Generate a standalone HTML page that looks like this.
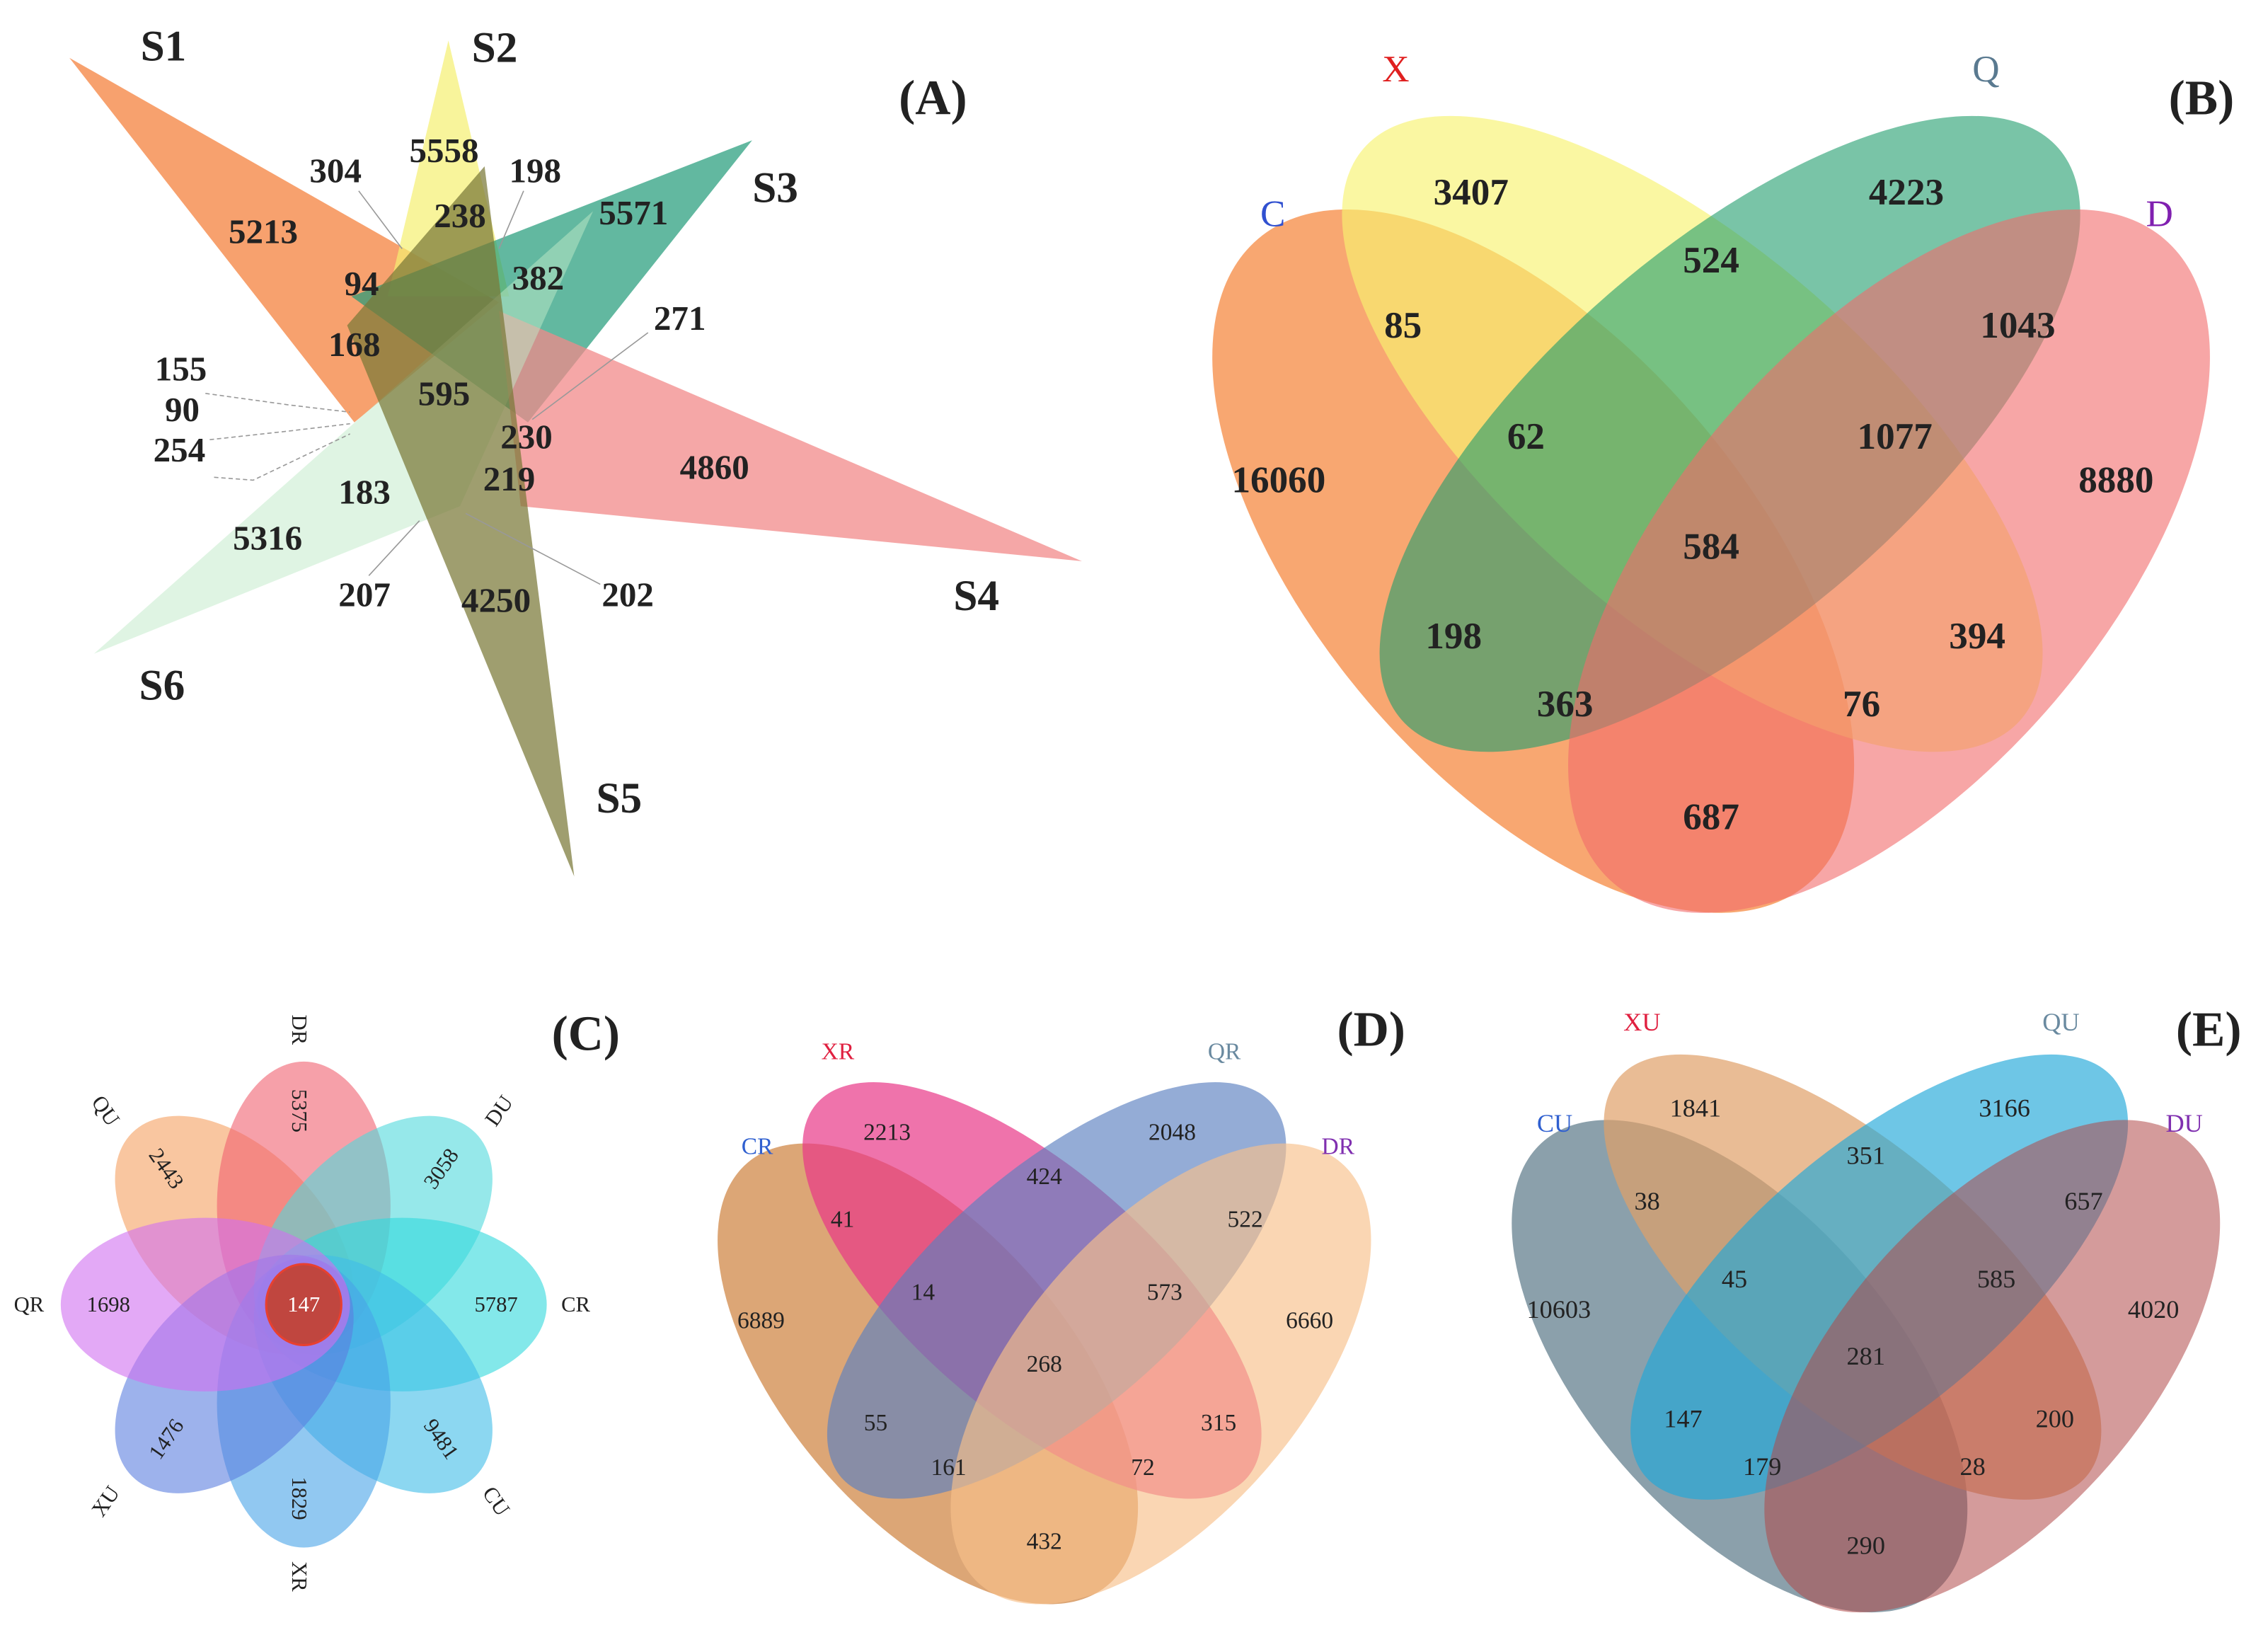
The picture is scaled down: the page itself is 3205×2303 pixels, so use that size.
<!DOCTYPE html>
<html><head><meta charset="utf-8"><style>
html,body{margin:0;padding:0;background:#fff;}
svg{display:block;}
text{font-family:"Liberation Serif",serif;dominant-baseline:central;text-anchor:middle;fill:#222;}
.b{font-weight:bold;}
</style></head><body>
<svg width="3205" height="2303" viewBox="0 0 1568 1127" preserveAspectRatio="none" xmlns="http://www.w3.org/2000/svg">
<defs>
<g id="venn4">
</g>
</defs>
<rect width="1568" height="1127" fill="#fff"/>

<!-- Panel A -->
<g>
<polygon points="48,40 345,209 245,292" fill="#f58a4a" fill-opacity="0.8"/>
<polygon points="310,28 268,205 352,205" fill="#f5ef70" fill-opacity="0.7"/>
<polygon points="520,97 243,205 365,292" fill="#1f9a78" fill-opacity="0.7"/>
<polygon points="748,388 345,215 360,350" fill="#f28a8a" fill-opacity="0.75"/>
<polygon points="65,452 410,146 318,350" fill="#bfe9c8" fill-opacity="0.5"/>
<polygon points="335,115 240,225 397,606" fill="#7a7838" fill-opacity="0.72"/>
<g stroke="#999" stroke-width="0.8" fill="none">
<line x1="248" y1="132" x2="278" y2="172"/>
<line x1="362" y1="132" x2="345" y2="172"/>
<line x1="448" y1="230" x2="368" y2="290"/>
<polyline points="142,272 200,280 242,285" stroke-dasharray="3,2"/>
<polyline points="145,304 200,298 242,293" stroke-dasharray="3,2"/>
<polyline points="148,330 175,332 242,300" stroke-dasharray="3,2"/>
<line x1="255" y1="398" x2="290" y2="360"/>
<line x1="415" y1="404" x2="322" y2="355"/>
</g>
<g font-size="24">
<text x="113" y="32" class="b" font-size="30">S1</text>
<text x="342" y="33" class="b" font-size="30">S2</text>
<text x="536" y="130" class="b" font-size="30">S3</text>
<text x="675" y="412" class="b" font-size="30">S4</text>
<text x="428" y="552" class="b" font-size="30">S5</text>
<text x="112" y="474" class="b" font-size="30">S6</text>
<text x="645" y="68" class="b" font-size="34">(A)</text>
<text x="182" y="160" class="b">5213</text>
<text x="232" y="118" class="b">304</text>
<text x="307" y="104" class="b">5558</text>
<text x="370" y="118" class="b">198</text>
<text x="318" y="149" class="b">238</text>
<text x="438" y="147" class="b">5571</text>
<text x="250" y="196" class="b">94</text>
<text x="372" y="192" class="b">382</text>
<text x="470" y="220" class="b">271</text>
<text x="245" y="238" class="b">168</text>
<text x="307" y="272" class="b">595</text>
<text x="125" y="255" class="b">155</text>
<text x="126" y="283" class="b">90</text>
<text x="124" y="311" class="b">254</text>
<text x="364" y="302" class="b">230</text>
<text x="352" y="331" class="b">219</text>
<text x="494" y="323" class="b">4860</text>
<text x="252" y="340" class="b">183</text>
<text x="185" y="372" class="b">5316</text>
<text x="252" y="411" class="b">207</text>
<text x="343" y="415" class="b">4250</text>
<text x="434" y="411" class="b">202</text>
</g>
</g>

<!-- Panel B -->
<g>
<ellipse cx="1060" cy="388" rx="293" ry="150" transform="rotate(49.5 1060 388)" fill="#f5853a" fill-opacity="0.72"/>
<ellipse cx="1170" cy="300" rx="301" ry="128" transform="rotate(41 1170 300)" fill="#f8f270" fill-opacity="0.65"/>
<ellipse cx="1196" cy="300" rx="301" ry="128" transform="rotate(-41 1196 300)" fill="#1f9c6c" fill-opacity="0.6"/>
<ellipse cx="1306" cy="388" rx="293" ry="150" transform="rotate(-49.5 1306 388)" fill="#f26a6a" fill-opacity="0.6"/>
<g font-size="26" class="b">
<text x="965" y="48" style="fill:#e02020" font-weight="normal">X</text>
<text x="1373" y="48" style="fill:#5a7a90" font-weight="normal">Q</text>
<text x="880" y="148" style="fill:#3050d0" font-weight="normal">C</text>
<text x="1493" y="148" style="fill:#8020b0" font-weight="normal">D</text>
<text x="1522" y="68" font-size="34">(B)</text>
<text x="1017" y="133">3407</text><text x="1318" y="133">4223</text><text x="1183" y="180">524</text>
<text x="970" y="225">85</text><text x="1395" y="225">1043</text><text x="1055" y="302">62</text>
<text x="1310" y="302">1077</text><text x="884" y="332">16060</text><text x="1463" y="332">8880</text>
<text x="1183" y="378">584</text><text x="1005" y="440">198</text><text x="1367" y="440">394</text>
<text x="1082" y="487">363</text><text x="1287" y="487">76</text><text x="1183" y="565">687</text>
</g>
</g>

<!-- Panel C -->
<g>
<g transform="translate(210,902)" fill-opacity="0.6">
<ellipse cx="-48" cy="-48" rx="100" ry="60" transform="rotate(-135 -48 -48)" fill="#f5a060"/>
<ellipse cx="0" cy="-68" rx="100" ry="60" transform="rotate(-90 0 -68)" fill="#f06070"/>
<ellipse cx="48" cy="-48" rx="100" ry="60" transform="rotate(-45 48 -48)" fill="#50d8dc"/>
<ellipse cx="68" cy="0" rx="100" ry="60" fill="#30d8dc"/>
<ellipse cx="48" cy="48" rx="100" ry="60" transform="rotate(45 48 48)" fill="#40bce8"/>
<ellipse cx="0" cy="68" rx="100" ry="60" transform="rotate(90 0 68)" fill="#48a4e8"/>
<ellipse cx="-48" cy="48" rx="100" ry="60" transform="rotate(135 -48 48)" fill="#5c7ee0"/>
<ellipse cx="-68" cy="0" rx="100" ry="60" fill="#d070f0"/>
</g>
<ellipse cx="210" cy="902" rx="26" ry="28" fill="#c0463f" stroke="#e84030" stroke-width="1.5"/>
<text x="210" y="902" font-size="15" style="fill:#fff">147</text>
<g font-size="15">
<text x="405" y="715" class="b" font-size="34">(C)</text>
<text x="207" y="768" transform="rotate(90 207 768)">5375</text>
<text x="305" y="808" transform="rotate(-55 305 808)">3058</text>
<text x="343" y="902">5787</text>
<text x="305" y="995" transform="rotate(55 305 995)">9481</text>
<text x="207" y="1036" transform="rotate(90 207 1036)">1829</text>
<text x="115" y="995" transform="rotate(-55 115 995)">1476</text>
<text x="75" y="902">1698</text>
<text x="115" y="808" transform="rotate(55 115 808)">2443</text>
<text x="207" y="712" transform="rotate(90 207 712)">DR</text>
<text x="345" y="768" transform="rotate(-55 345 768)">DU</text>
<text x="398" y="902">CR</text>
<text x="343" y="1038" transform="rotate(55 343 1038)">CU</text>
<text x="207" y="1090" transform="rotate(90 207 1090)">XR</text>
<text x="73" y="1038" transform="rotate(-55 73 1038)">XU</text>
<text x="20" y="902">QR</text>
<text x="73" y="768" transform="rotate(55 73 768)">QU</text>
</g>
</g>

<!-- Panel D -->
<text x="948" y="712" class="b" font-size="34">(D)</text>
<g transform="translate(722,925) scale(0.655) translate(-1183,-350)">
<ellipse cx="1060" cy="388" rx="293" ry="150" transform="rotate(49.5 1060 388)" fill="#d08848" fill-opacity="0.75"/>
<ellipse cx="1170" cy="300" rx="301" ry="128" transform="rotate(41 1170 300)" fill="#e83888" fill-opacity="0.7"/>
<ellipse cx="1196" cy="300" rx="301" ry="128" transform="rotate(-41 1196 300)" fill="#5a80c0" fill-opacity="0.65"/>
<ellipse cx="1306" cy="388" rx="293" ry="150" transform="rotate(-49.5 1306 388)" fill="#f8c08a" fill-opacity="0.65"/>
<g font-size="25">
<text x="965" y="48" style="fill:#e02040">XR</text>
<text x="1373" y="48" style="fill:#6a8aa0">QR</text>
<text x="880" y="148" style="fill:#3060d0">CR</text>
<text x="1493" y="148" style="fill:#8030b0">DR</text>
<text x="1017" y="133">2213</text><text x="1318" y="133">2048</text><text x="1183" y="180">424</text>
<text x="970" y="225">41</text><text x="1395" y="225">522</text><text x="1055" y="302">14</text>
<text x="1310" y="302">573</text><text x="884" y="332">6889</text><text x="1463" y="332">6660</text>
<text x="1183" y="378">268</text><text x="1005" y="440">55</text><text x="1367" y="440">315</text>
<text x="1082" y="487">161</text><text x="1287" y="487">72</text><text x="1183" y="565">432</text>
</g>
</g>

<!-- Panel E -->
<text x="1527" y="712" class="b" font-size="34">(E)</text>
<g transform="translate(1290,918) scale(0.71,0.70) translate(-1183,-350)">
<ellipse cx="1060" cy="388" rx="293" ry="150" transform="rotate(49.5 1060 388)" fill="#5a7888" fill-opacity="0.7"/>
<ellipse cx="1170" cy="300" rx="301" ry="128" transform="rotate(41 1170 300)" fill="#e0a068" fill-opacity="0.7"/>
<ellipse cx="1196" cy="300" rx="301" ry="128" transform="rotate(-41 1196 300)" fill="#20a8d8" fill-opacity="0.65"/>
<ellipse cx="1306" cy="388" rx="293" ry="150" transform="rotate(-49.5 1306 388)" fill="#b04848" fill-opacity="0.55"/>
<g font-size="25">
<text x="965" y="48" style="fill:#e02040">XU</text>
<text x="1373" y="48" style="fill:#6a8aa0">QU</text>
<text x="880" y="148" style="fill:#3060d0">CU</text>
<text x="1493" y="148" style="fill:#8030b0">DU</text>
<text x="1017" y="133">1841</text><text x="1318" y="133">3166</text><text x="1183" y="180">351</text>
<text x="970" y="225">38</text><text x="1395" y="225">657</text><text x="1055" y="302">45</text>
<text x="1310" y="302">585</text><text x="884" y="332">10603</text><text x="1463" y="332">4020</text>
<text x="1183" y="378">281</text><text x="1005" y="440">147</text><text x="1367" y="440">200</text>
<text x="1082" y="487">179</text><text x="1287" y="487">28</text><text x="1183" y="565">290</text>
</g>
</g>
</svg>
</body></html>
